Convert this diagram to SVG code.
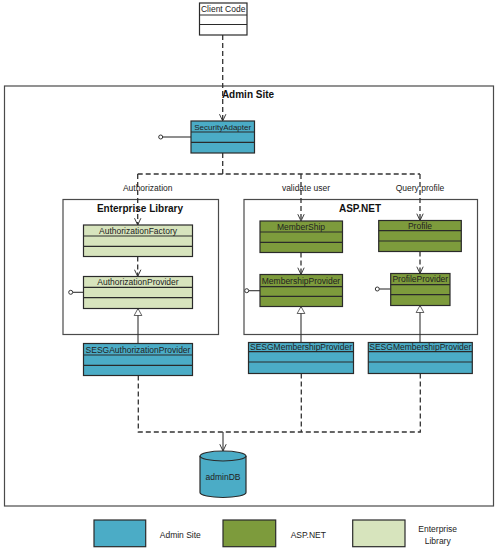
<svg xmlns="http://www.w3.org/2000/svg" width="498" height="552" viewBox="0 0 498 552">
<defs>
<style>
.cls{stroke:#2a2a2a;stroke-width:1.2}
.div{stroke:#2a2a2a;stroke-width:1.2}
.blue{fill:#4BACC6}
.green{fill:#7D9B3C}
.lgreen{fill:#D7E4BD}
.white{fill:#ffffff}
.cont{fill:none;stroke:#4a4a4a;stroke-width:1.2}
.t{font-family:"Liberation Sans",Arial,sans-serif;font-size:8.5px;fill:#222;text-anchor:middle}
.tb{font-family:"Liberation Sans",Arial,sans-serif;font-size:10px;font-weight:bold;fill:#111;text-anchor:middle}
.dash{fill:none;stroke:#333;stroke-width:1.3;stroke-dasharray:5,3}
.solid{fill:none;stroke:#333;stroke-width:1.1}
.lolli{fill:#fff;stroke:#333;stroke-width:1}
</style>
<marker id="open" viewBox="0 0 10 10" refX="9.5" refY="5" markerWidth="8" markerHeight="8" markerUnits="userSpaceOnUse" orient="auto">
<path d="M1,1 L9.5,5 L1,9" fill="none" stroke="#333" stroke-width="1.2"/>
</marker>
<marker id="tri" viewBox="0 0 10 12" refX="10" refY="6" markerWidth="7" markerHeight="12" markerUnits="userSpaceOnUse" orient="auto">
<path d="M0,0.5 L10,6 L0,11.5 Z" fill="#fff" stroke="#333" stroke-width="1.1"/>
</marker>
</defs>
<rect width="498" height="552" fill="#fff"/>

<g id="admin-site">
<rect class="cont" x="4.5" y="86" width="489" height="420"/>
<text class="tb" x="248" y="97.5">Admin Site</text>
</g>

<g id="enterprise-library">
<rect class="cont" x="63" y="199.5" width="155.5" height="135"/>
<text class="tb" x="140" y="212">Enterprise Library</text>
</g>

<g id="aspnet">
<rect class="cont" x="244" y="199.5" width="233.5" height="135"/>
<text class="tb" x="360" y="212">ASP.NET</text>
</g>

<g id="connectors">
<path class="dash" d="M222.7,35 V121" marker-end="url(#open)"/>
<path class="dash" d="M222.7,153 V174"/>
<path class="dash" d="M137.7,174 H420"/>
<path class="dash" d="M137.7,174 V225" marker-end="url(#open)"/>
<path class="dash" d="M301,174 V221" marker-end="url(#open)"/>
<path class="dash" d="M420,174 V220.5" marker-end="url(#open)"/>
<path class="dash" d="M137.7,256.5 V276.5" marker-end="url(#open)"/>
<path class="dash" d="M301,252.5 V274.5" marker-end="url(#open)"/>
<path class="dash" d="M420,251.5 V273.5" marker-end="url(#open)"/>
<path class="solid" d="M138,343.5 V308.5" marker-end="url(#tri)"/>
<path class="solid" d="M301,342.5 V306.5" marker-end="url(#tri)"/>
<path class="solid" d="M420,342.5 V305.5" marker-end="url(#tri)"/>
<path class="dash" d="M138.3,375.5 V432 H420.3 V373.5"/>
<path class="dash" d="M301.3,373.5 V432"/>
<path class="solid" d="M223,432 V451" marker-end="url(#open)"/>
<text class="t" x="147.7" y="191">Authorization</text>
<text class="t" x="306" y="191">validate user</text>
<text class="t" x="420" y="191">Query profile</text>
</g>

<g id="client-code">
<rect class="cls white" x="199.5" y="3" width="47.5" height="32"/>
<line class="div" x1="199.5" y1="15" x2="247" y2="15"/>
<line class="div" x1="199.5" y1="24.5" x2="247" y2="24.5"/>
<text class="t" x="223.2" y="12.3">Client Code</text>
</g>

<g id="security-adapter">
<line class="solid" x1="162.7" y1="137" x2="191" y2="137"/>
<circle class="lolli" cx="160.7" cy="137" r="2"/>
<rect class="cls blue" x="191" y="121" width="63.5" height="32"/>
<line class="div" x1="191" y1="132" x2="254.5" y2="132"/>
<line class="div" x1="191" y1="142.3" x2="254.5" y2="142.3"/>
<text class="t" x="222.7" y="130" style="font-size:8px">SecurityAdapter</text>
</g>

<g id="authorization-factory">
<rect class="cls lgreen" x="83.5" y="225" width="109" height="31.5"/>
<line class="div" x1="83.5" y1="236" x2="192.5" y2="236"/>
<line class="div" x1="83.5" y1="246.3" x2="192.5" y2="246.3"/>
<text class="t" x="138" y="233.5">AuthorizationFactory</text>
</g>

<g id="authorization-provider">
<line class="solid" x1="72.7" y1="292.3" x2="83.5" y2="292.3"/>
<circle class="lolli" cx="70.7" cy="292.3" r="2"/>
<rect class="cls lgreen" x="83.5" y="276.5" width="109" height="32"/>
<line class="div" x1="83.5" y1="287.3" x2="192.5" y2="287.3"/>
<line class="div" x1="83.5" y1="297.7" x2="192.5" y2="297.7"/>
<text class="t" x="138" y="285">AuthorizationProvider</text>
</g>

<g id="sesg-authorization-provider">
<rect class="cls blue" x="83.5" y="343.5" width="109" height="32"/>
<line class="div" x1="83.5" y1="355" x2="192.5" y2="355"/>
<line class="div" x1="83.5" y1="365.3" x2="192.5" y2="365.3"/>
<text class="t" x="138" y="352.5">SESGAuthorizationProvider</text>
</g>

<g id="membership">
<rect class="cls green" x="260" y="221" width="82.5" height="31.5"/>
<line class="div" x1="260" y1="232" x2="342.5" y2="232"/>
<line class="div" x1="260" y1="242.3" x2="342.5" y2="242.3"/>
<text class="t" x="301" y="229.8">MemberShip</text>
</g>

<g id="membership-provider">
<line class="solid" x1="248.7" y1="290.7" x2="260" y2="290.7"/>
<circle class="lolli" cx="246.7" cy="290.7" r="2"/>
<rect class="cls green" x="260" y="274.5" width="82.5" height="32"/>
<line class="div" x1="260" y1="286.7" x2="342.5" y2="286.7"/>
<line class="div" x1="260" y1="296.3" x2="342.5" y2="296.3"/>
<text class="t" x="301" y="283.5">MembershipProvider</text>
</g>

<g id="profile">
<rect class="cls green" x="378.7" y="220.5" width="82.6" height="31"/>
<line class="div" x1="378.7" y1="230.7" x2="461.3" y2="230.7"/>
<line class="div" x1="378.7" y1="241" x2="461.3" y2="241"/>
<text class="t" x="420" y="228.8">Profile</text>
</g>

<g id="profile-provider">
<line class="solid" x1="379.3" y1="289" x2="390.7" y2="289"/>
<circle class="lolli" cx="377.3" cy="289" r="2"/>
<rect class="cls green" x="390.7" y="273.5" width="59.3" height="32"/>
<line class="div" x1="390.7" y1="284.7" x2="450" y2="284.7"/>
<line class="div" x1="390.7" y1="294.7" x2="450" y2="294.7"/>
<text class="t" x="420.3" y="282.3">ProfileProvider</text>
</g>

<g id="sesg-membership-provider-1">
<rect class="cls blue" x="248.5" y="342.5" width="105" height="31"/>
<line class="div" x1="248.5" y1="351.7" x2="353.5" y2="351.7"/>
<line class="div" x1="248.5" y1="362" x2="353.5" y2="362"/>
<text class="t" x="301" y="350.3">SESGMembershipProvider</text>
</g>

<g id="sesg-membership-provider-2">
<rect class="cls blue" x="368.3" y="342.5" width="104" height="31"/>
<line class="div" x1="368.3" y1="351.7" x2="472.3" y2="351.7"/>
<line class="div" x1="368.3" y1="362" x2="472.3" y2="362"/>
<text class="t" x="420.3" y="350.3">SESGMembershipProvider</text>
</g>

<g id="admin-db">
<path class="cls blue" d="M200,456 A23,5 0 0 1 246,456 V492.5 A23,5 0 0 1 200,492.5 Z"/>
<path d="M200,456 A23,5 0 0 0 246,456" fill="none" stroke="#2a2a2a" stroke-width="1.2"/>
<text class="t" x="223" y="479.5">adminDB</text>
</g>

<g id="legend">
<rect class="cls blue" x="94" y="520" width="51.7" height="26.7"/>
<text class="t" x="180.3" y="538">Admin Site</text>
<rect class="cls green" x="223" y="520" width="52.7" height="26.7"/>
<text class="t" x="308.3" y="538">ASP.NET</text>
<rect class="cls lgreen" x="352.7" y="520" width="52.3" height="26.7"/>
<text class="t" x="437.7" y="532">Enterprise</text>
<text class="t" x="437.7" y="543.5">Library</text>
</g>
</svg>
